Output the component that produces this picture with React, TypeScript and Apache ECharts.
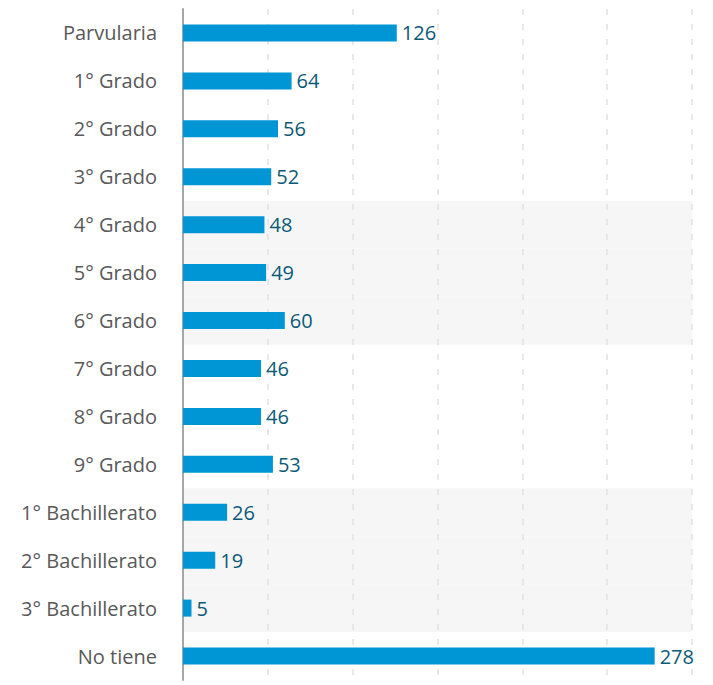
import React, { useEffect, useRef } from "react";
import * as echarts from "echarts";

const categories = [
  "Parvularia",
  "1° Grado",
  "2° Grado",
  "3° Grado",
  "4° Grado",
  "5° Grado",
  "6° Grado",
  "7° Grado",
  "8° Grado",
  "9° Grado",
  "1° Bachillerato",
  "2° Bachillerato",
  "3° Bachillerato",
  "No tiene",
];
const values = [126, 64, 56, 52, 48, 49, 60, 46, 46, 53, 26, 19, 5, 278];
// rows with a shaded background band (1 = shaded)
const shaded = [0, 0, 0, 0, 1, 1, 1, 0, 0, 0, 1, 1, 1, 0];
const xTicks = { min: 0, max: 300, interval: 50 };

export default function App() {
  const ref = useRef<HTMLDivElement>(null);
  useEffect(() => {
    if (!ref.current) return;
    const chart = echarts.init(ref.current, undefined, { renderer: "svg" });
    const font = "'Open Sans', Lato, sans-serif";
    chart.setOption({
      animation: false,
      grid: { left: 183, right: 21, top: 9, bottom: 5, containLabel: false },
      xAxis: {
        type: "value",
        min: xTicks.min,
        max: xTicks.max,
        interval: xTicks.interval,
        z: 1,
        axisLabel: { show: false },
        axisLine: { show: false },
        axisTick: { show: false },
        splitLine: {
          show: true,
          lineStyle: { color: "#e2e2e2", type: [6, 9], width: 1.5 },
        },
      },
      yAxis: [
        {
          type: "category",
          data: categories,
          inverse: true,
          z: 1,
          axisLine: { show: true, lineStyle: { color: "#a6a6a6", width: 2 } },
          axisTick: { show: false },
          axisLabel: {
            color: "#595959",
            fontSize: 20,
            fontFamily: font,
            margin: 26,
          },
        },
        {
          type: "category",
          data: categories,
          inverse: true,
          show: false,
        },
      ],
      series: [
        {
          type: "bar",
          yAxisIndex: 1,
          z: 0,
          barWidth: "100%",
          silent: true,
          itemStyle: { color: "#f6f6f6" },
          data: shaded.map((s) => (s ? xTicks.max : 0)),
        },
        {
          type: "bar",
          yAxisIndex: 0,
          z: 2,
          barWidth: 17,
          itemStyle: { color: "#0096d6" },
          label: {
            show: true,
            position: "right",
            distance: 5,
            color: "#0d5a76",
            fontSize: 20,
            fontFamily: font,
          },
          data: values,
        },
      ],
    });
    return () => chart.dispose();
  }, []);
  return (
    <div
      ref={ref}
      style={{ position: "absolute", left: 0, top: 0, width: 713, height: 685 }}
    />
  );
}
